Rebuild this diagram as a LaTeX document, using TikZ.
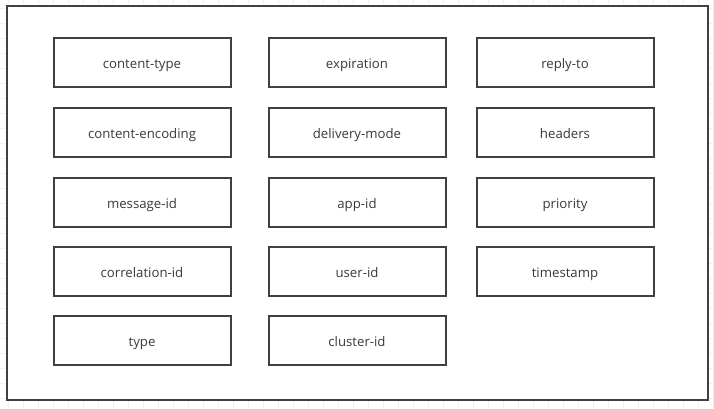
\documentclass[tikz,border=0pt]{standalone}
\usepackage{fontspec}
\setmainfont{Open Sans}
\definecolor{edge}{HTML}{404040}
\definecolor{txt}{HTML}{3A3A3A}
\definecolor{gridc}{HTML}{F0F0F0}
\begin{document}
\begin{tikzpicture}[x=0.75pt,y=-0.75pt,
  field/.style={draw=edge,line width=1.5pt,minimum width=177*0.75pt,minimum height=49*0.75pt,inner sep=0pt,text height=2.2ex,text depth=0.45ex,font=\fontsize{9.9pt}{11pt}\selectfont,text=txt,fill=white}]
\useasboundingbox (0,0) rectangle (714,408);
\fill[white] (0,0) rectangle (714,408);
\foreach \x in {8,23,...,713} \draw[gridc,line width=0.6pt] (\x,0) -- (\x,408);
\foreach \y in {8,23,...,407} \draw[gridc,line width=0.6pt] (0,\y) -- (714,\y);
\node[draw=edge,line width=1.5pt,fill=white,minimum width=701*0.75pt,minimum height=394*0.75pt,inner sep=0pt] (frame) at (357.5,203) {};
\node[field] (ct) at (142,62.5) {content-type};
\node[field] (exp) at (357,62.5) {expiration};
\node[field] (rt) at (565,62.5) {reply-to};
\node[field] (ce) at (142,132.5) {content-encoding};
\node[field] (dm) at (357,132.5) {delivery-mode};
\node[field] (hd) at (565,132.5) {headers};
\node[field] (mid) at (142,202.5) {message-id};
\node[field] (app) at (357,202.5) {app-id};
\node[field] (pr) at (565,202.5) {priority};
\node[field] (cid) at (142,271.5) {correlation-id};
\node[field] (uid) at (357,271.5) {user-id};
\node[field] (ts) at (565,271.5) {timestamp};
\node[field] (ty) at (142,340.5) {type};
\node[field] (cl) at (357,340.5) {cluster-id};
\end{tikzpicture}
\end{document}
